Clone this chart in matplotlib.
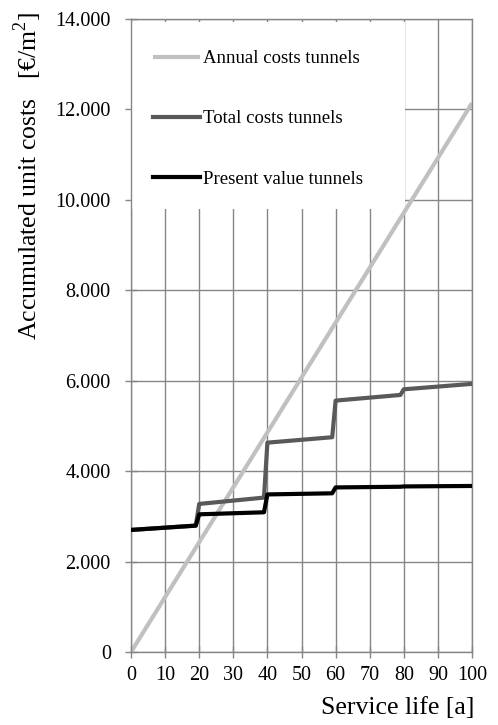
import matplotlib
matplotlib.use("Agg")
import matplotlib.pyplot as plt
from matplotlib.ticker import FuncFormatter, MultipleLocator
from matplotlib.patches import Rectangle

# Service life in years and accumulated unit costs in EUR/m2
annual_years = [0, 100]
annual_costs = [0, 12140]

total_years = [0, 19, 20, 39, 40, 59, 60, 79, 80, 100]
total_costs = [2700, 2795, 3275, 3415, 4630, 4750, 5560, 5685, 5810, 5930]

pv_years = [0, 19, 20, 39, 40, 59, 60, 79, 80, 100]
pv_costs = [2700, 2795, 3045, 3090, 3485, 3510, 3640, 3655, 3662, 3672]

series_labels = ["Annual costs tunnels", "Total costs tunnels", "Present value tunnels"]
series_colors = ["#c0c0c0", "#595959", "#000000"]

x_label = "Service life [a]"
y_label = "Accumulated unit costs   [€/m$^2$]"

plt.rcParams["font.family"] = ["Liberation Serif", "DejaVu Serif"]
plt.rcParams["mathtext.fontset"] = "custom"
plt.rcParams["mathtext.rm"] = "Liberation Serif"

fig = plt.figure(figsize=(4.98, 7.25), dpi=100)
ax = fig.add_axes([131 / 498, 1 - 652 / 725, 341 / 498, 633 / 725])

grid_c = "#868686"
ax.set_xlim(0, 100)
ax.set_ylim(0, 14000)
ax.xaxis.set_major_locator(MultipleLocator(10))
ax.yaxis.set_major_locator(MultipleLocator(2000))
ax.yaxis.set_major_formatter(FuncFormatter(lambda v, p: f"{v:,.0f}".replace(",", ".")))
ax.set_axisbelow(True)
ax.grid(True, color=grid_c, linewidth=1.0)
for s in ax.spines.values():
    s.set_color(grid_c)
    s.set_linewidth(1.0)
ax.tick_params(axis="both", direction="inout", length=9, width=1.0, color=grid_c,
               labelsize=14.5, labelcolor="black")
ax.tick_params(axis="y", pad=10)
ax.tick_params(axis="x", pad=5.5)

# white panel behind the legend, hiding the grid there
ax.add_patch(Rectangle((0.003, 1 - 190 / 633), 273 / 341, 187 / 633,
                       transform=ax.transAxes, facecolor="white", edgecolor="none", zorder=1))

lw = 3.0
ax.plot(annual_years, annual_costs, color=series_colors[0], lw=lw, label=series_labels[0],
        zorder=2, solid_capstyle="butt")
ax.plot(total_years, total_costs, color=series_colors[1], lw=lw, label=series_labels[1],
        zorder=3, solid_joinstyle="round")
ax.plot(pv_years, pv_costs, color=series_colors[2], lw=lw, label=series_labels[2],
        zorder=4, solid_joinstyle="round")

leg = ax.legend(loc="upper left", bbox_to_anchor=(0.0645, 0.951), frameon=False,
                fontsize=13.5, handlelength=2.5, handletextpad=0.15, labelspacing=2.3,
                borderpad=0.0, borderaxespad=0.0)
leg.set_zorder(6)

fig.text(28 / 498, 1 - 12 / 725, y_label, rotation=90, ha="center", va="top", fontsize=18.5)
fig.text(474 / 498, 1 - 708 / 725, x_label, ha="right", va="center", fontsize=18.5)

fig.savefig("out.png", dpi=100)
